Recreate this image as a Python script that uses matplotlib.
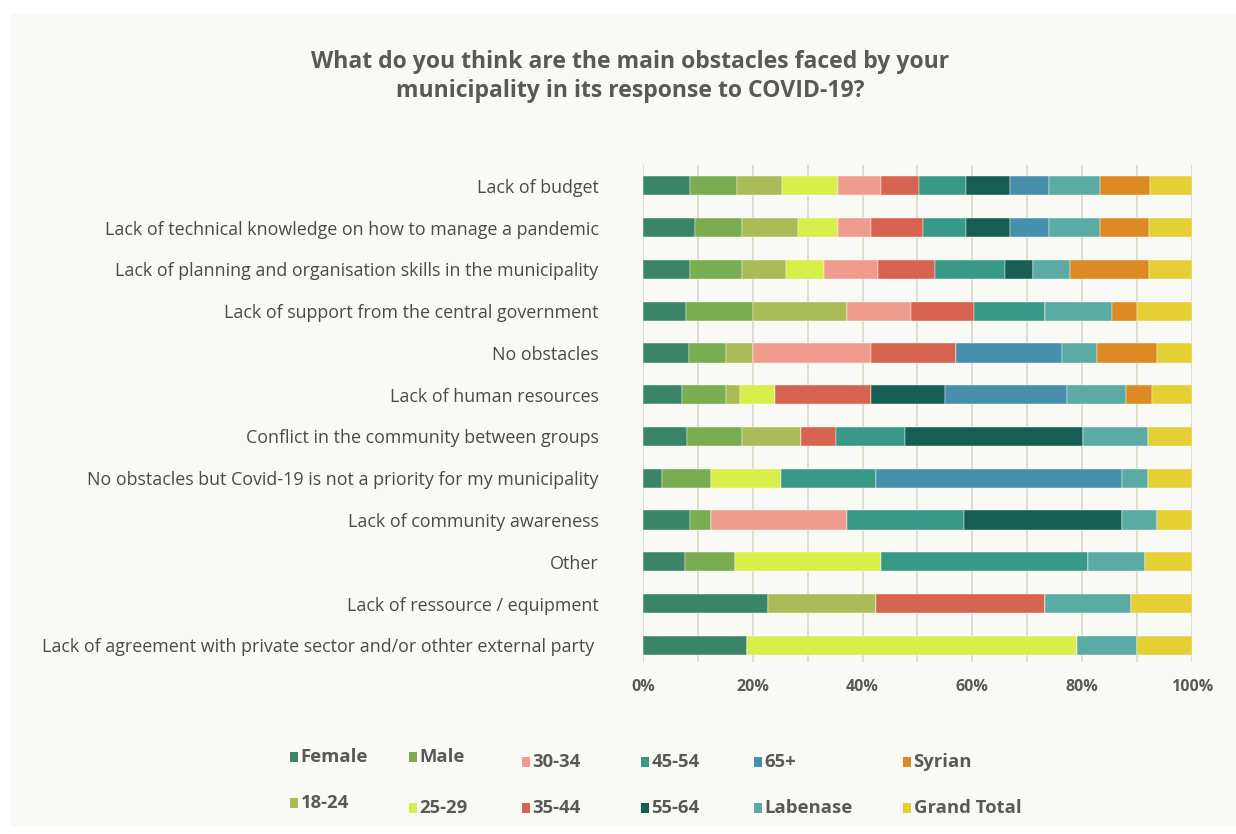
import numpy as np
import matplotlib.pyplot as plt
from matplotlib.patches import Rectangle

plt.rcParams['font.family'] = ['Open Sans', 'DejaVu Sans']

# Obstacles, top to bottom
categories = [
    "Lack of budget",
    "Lack of technical knowledge on how to manage a pandemic",
    "Lack of planning and organisation skills in the municipality",
    "Lack of support from the central government",
    "No obstacles",
    "Lack of human resources",
    "Conflict in the community between groups",
    "No obstacles but Covid-19 is not a priority for my municipality",
    "Lack of community awareness",
    "Other",
    "Lack of ressource / equipment",
    "Lack of agreement with private sector and/or othter external party ",
]

# share of each group per obstacle (%)
female      = [8.6, 9.4, 8.5, 7.8, 8.4, 7.1, 8.0, 3.5, 8.6, 7.7, 22.7, 19.0]
male        = [8.6, 8.7, 9.6, 12.3, 6.7, 8.0, 10.0, 8.9, 3.8, 9.0, 0.0, 0.0]
age_18_24   = [8.1, 10.1, 8.0, 17.1, 4.9, 2.6, 10.7, 0.0, 0.0, 0.0, 19.8, 0.0]
age_25_29   = [10.3, 7.4, 6.9, 0.0, 0.0, 6.4, 0.0, 12.8, 0.0, 26.7, 0.0, 60.0]
age_30_34   = [7.8, 6.0, 9.8, 11.6, 21.5, 0.0, 0.0, 0.0, 24.8, 0.0, 0.0, 0.0]
age_35_44   = [6.8, 9.4, 10.5, 11.5, 15.4, 17.5, 6.5, 0.0, 0.0, 0.0, 30.7, 0.0]
age_45_54   = [8.7, 7.9, 12.7, 12.9, 0.0, 0.0, 12.6, 17.2, 21.2, 37.6, 0.0, 0.0]
age_55_64   = [7.9, 7.9, 5.1, 0.0, 0.0, 13.4, 32.3, 0.0, 28.9, 0.0, 0.0, 0.0]
age_65_plus = [7.1, 7.1, 0.0, 0.0, 19.4, 22.3, 0.0, 44.8, 0.0, 0.0, 0.0, 0.0]
labenase    = [9.4, 9.4, 6.8, 12.3, 6.3, 10.7, 11.9, 4.8, 6.3, 10.5, 15.7, 11.0]
syrian      = [9.0, 8.9, 14.4, 4.5, 10.9, 4.7, 0.0, 0.0, 0.0, 0.0, 0.0, 0.0]
grand_total = [7.7, 7.8, 7.8, 10.0, 6.4, 7.3, 8.0, 8.0, 6.4, 8.5, 11.1, 10.0]

series_names = ["Female", "Male", "18-24", "25-29", "30-34", "35-44",
                "45-54", "55-64", "65+", "Labenase", "Syrian", "Grand Total"]
series_values = [female, male, age_18_24, age_25_29, age_30_34, age_35_44,
                 age_45_54, age_55_64, age_65_plus, labenase, syrian, grand_total]
colors = ["#3A8467", "#79AD4F", "#AABC57", "#D8EE4A", "#EF9C8F", "#D66450",
          "#389A86", "#165E52", "#4690AE", "#5AABA4", "#DD8A24", "#E4CF35"]

bg = "#F9F9F5"
text_dark = "#4A4A48"
text_grey = "#595959"

fig = plt.figure(figsize=(12.36, 8.34), dpi=100)
fig.patch.set_facecolor("white")
fig.patches.append(Rectangle((0.009, 0.009), 0.991, 0.974, transform=fig.transFigure,
                             facecolor=bg, edgecolor="none", zorder=-10))

ax = fig.add_axes([0.5202, 0.2062, 0.4442, 0.596])
ax.set_facecolor(bg)

data = np.array(series_values, dtype=float)
data = data / data.sum(axis=0)  # normalise each row to 100%
y = np.arange(len(categories))
left = np.zeros(len(categories))
for name, vals, col in zip(series_names, data, colors):
    ax.barh(y, vals, left=left, height=0.46, color=col, label=name,
            edgecolor=bg, linewidth=0.3, zorder=3)
    left += vals

ax.set_ylim(11.4, -0.5)
ax.set_xlim(0, 1)
ax.set_xticks(np.arange(0, 1.01, 0.2))
ax.set_xticklabels([f"{int(round(t * 100))}%" for t in np.arange(0, 1.01, 0.2)],
                   fontsize=11.5, fontweight="bold", color=text_grey)
ax.set_xticks(np.arange(0, 1.01, 0.1), minor=True)
ax.grid(axis="x", which="both", color="#DCDFCB", linewidth=1.4, zorder=0)
ax.set_yticks(y)
ax.set_yticklabels(categories, fontsize=12.9, color=text_dark)
ax.tick_params(axis="both", which="both", length=0)
ax.tick_params(axis="y", pad=32)
ax.tick_params(axis="x", pad=12)
for s in ax.spines.values():
    s.set_visible(False)

fig.text(0.51, 0.908, "What do you think are the main obstacles faced by your\n"
         "municipality in its response to COVID-19?",
         ha="center", va="center", fontsize=16.6, fontweight="bold",
         color=text_grey, linespacing=1.3)

# legend: two rows, six columns
col_x = [290, 409, 522, 641, 754, 903]
row_y = [757, 803]
order = [[0, 2], [1, 3], [4, 5], [6, 7], [8, 9], [10, 11]]
for cx, pair in zip(col_x, order):
    for ry, idx in zip(row_y, pair):
        dy = 0 if idx in (0, 1, 2) else 5
        xf = cx / 1236
        yf = 1 - (ry + dy) / 834
        fig.patches.append(Rectangle((xf, yf - 0.006), 0.0065, 0.012,
                                     transform=fig.transFigure,
                                     facecolor=colors[idx], edgecolor="none"))
        fig.text(xf + 0.0085, yf, series_names[idx], ha="left", va="center",
                 fontsize=13.3, fontweight="bold", color=text_grey)

fig.savefig("out.png", dpi=100, facecolor=fig.get_facecolor())
